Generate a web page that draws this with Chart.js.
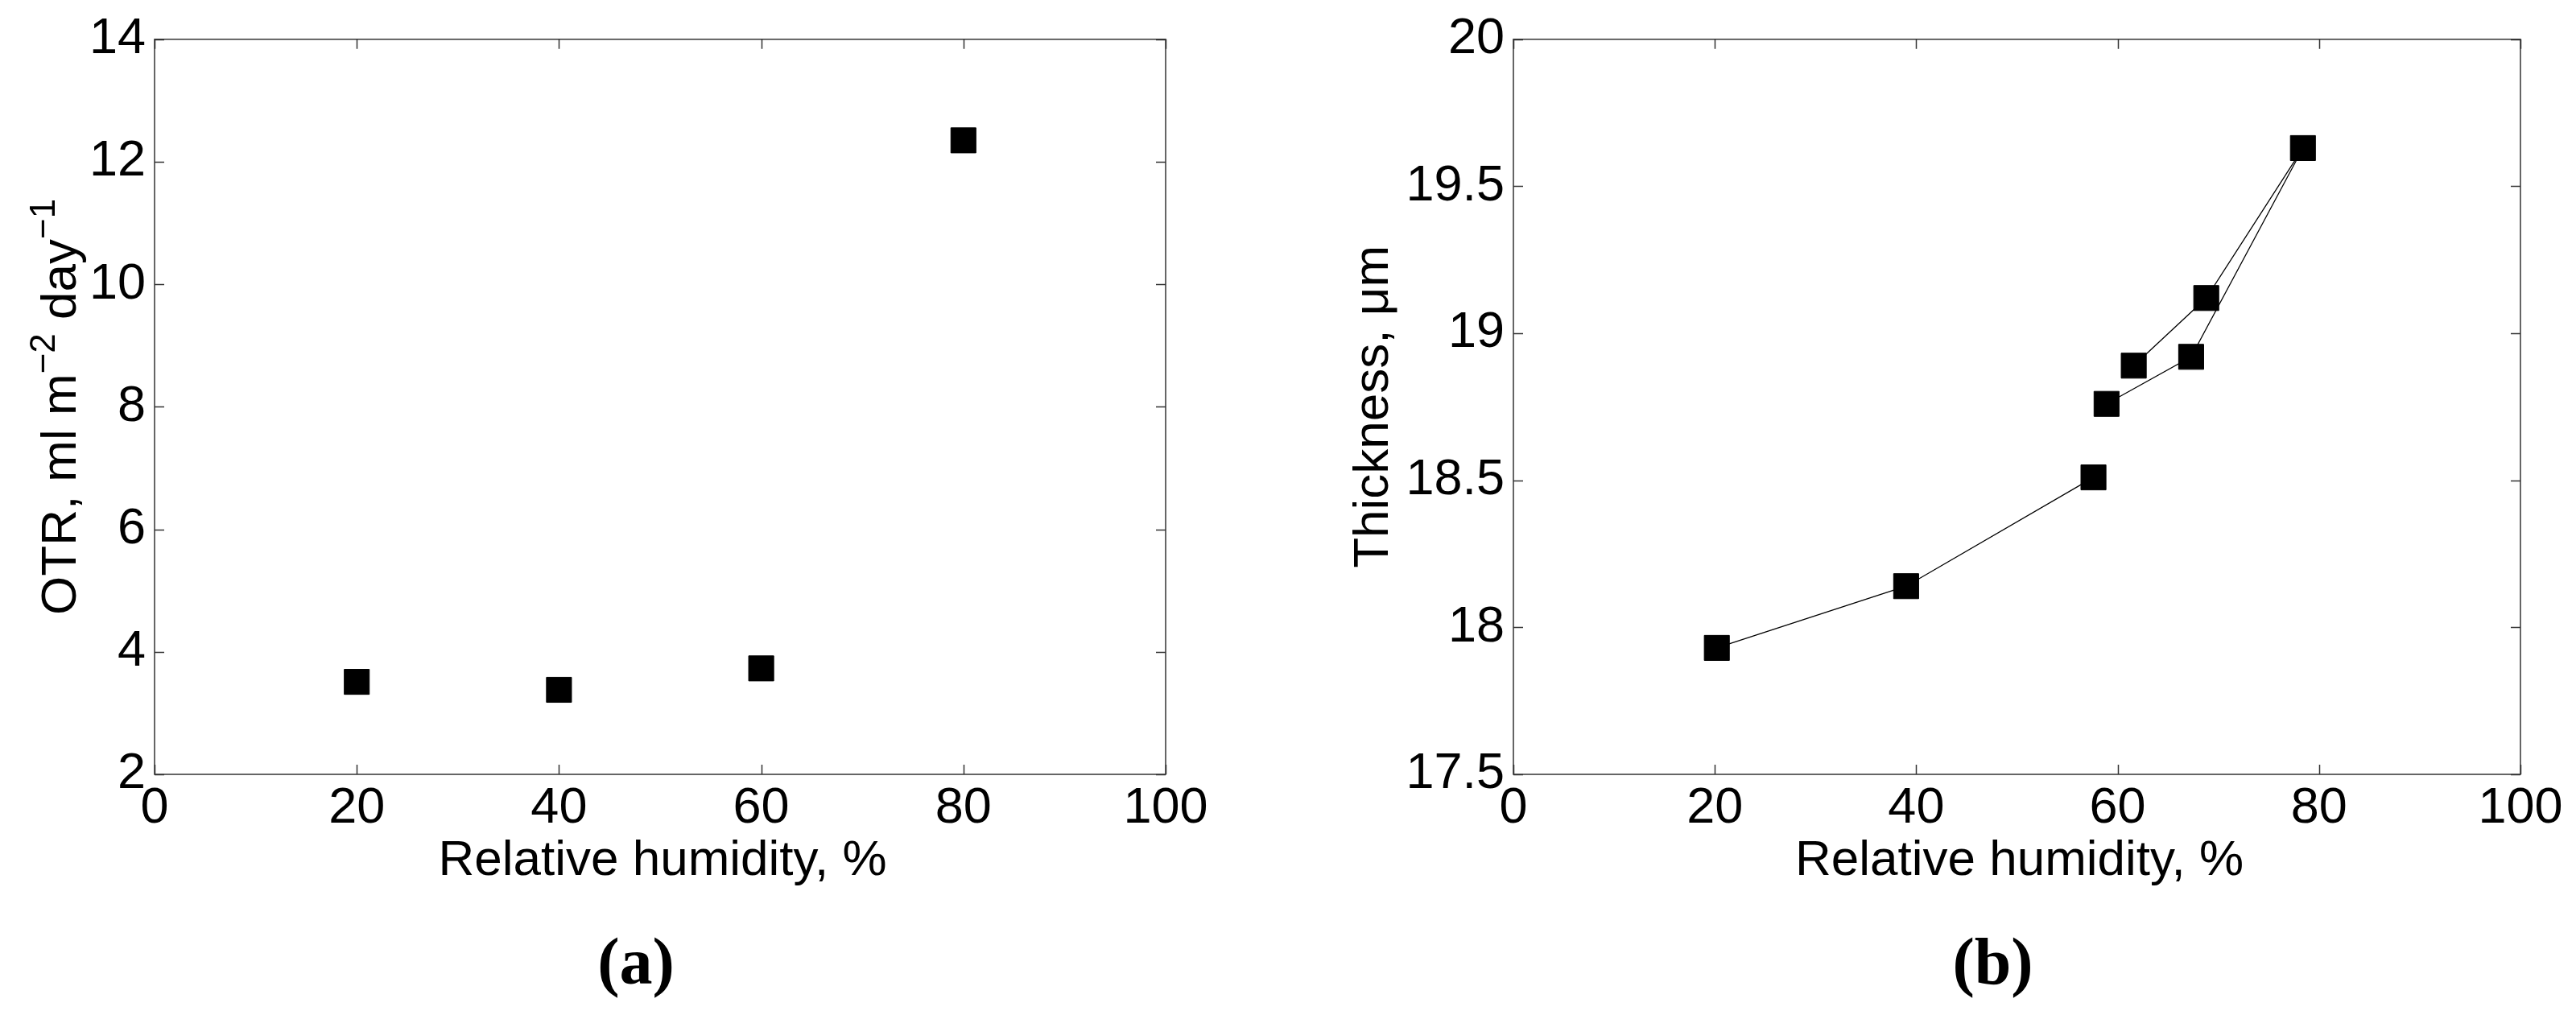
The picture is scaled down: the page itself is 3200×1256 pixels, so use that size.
<!DOCTYPE html>
<html><head><meta charset="utf-8">
<script src="https://cdn.jsdelivr.net/npm/chart.js@4.4.1/dist/chart.umd.min.js"></script>
<style>
html,body{margin:0;padding:0;background:#fff;}
#wrap{position:relative;width:3200px;height:1256px;background:#fff;}
canvas{position:absolute;top:0;}
</style></head><body>
<div id="wrap">
<canvas id="cA" width="1600" height="1256" style="left:0px"></canvas>
<canvas id="cB" width="1600" height="1256" style="left:1600px"></canvas>
</div>
<script>
// ---- data ----
const humidityA = [20, 40, 60, 80];
const otrA = [3.51, 3.38, 3.73, 12.35];
// panel (b): two connected runs
const humidityB1 = [20.2, 39.0, 57.6];
const thicknessB1 = [17.93, 18.14, 18.51];
const humidityB2 = [58.9, 67.3, 78.4, 68.8, 61.6];
const thicknessB2 = [18.76, 18.92, 19.63, 19.12, 18.89];
const xTicks = [0, 20, 40, 60, 80, 100];
const xTickLabels = ['0', '20', '40', '60', '80', '100'];
const yTicksA = [2, 4, 6, 8, 10, 12, 14];
const yTickLabelsA = ['2', '4', '6', '8', '10', '12', '14'];
const yTicksB = [17.5, 18, 18.5, 19, 19.5, 20];
const yTickLabelsB = ['17.5', '18', '18.5', '19', '19.5', '20'];
const xTitleText = 'Relative humidity, %';
const yTitleA = [['OTR, ml m', false], ['\u22122', true], [' day', false], ['\u22121', true]];
const yTitleB = [['Thickness, \u03bcm', false]];
const panelLabels = ['(a)', '(b)'];

const SANS = "'Liberation Sans', Arial, Helvetica, sans-serif";
const SERIF = "'Liberation Serif', 'Times New Roman', serif";
const FS = 63;

const framePlugin = {
  id: 'frame',
  beforeDatasetsDraw(chart) {
    const {ctx, chartArea: a, scales: {x, y}} = chart;
    ctx.save();
    ctx.strokeStyle = '#333';
    ctx.lineWidth = 1.5;
    ctx.strokeRect(a.left, a.top, a.right - a.left, a.bottom - a.top);
    const tl = 12;
    ctx.beginPath();
    x.ticks.forEach(t => {
      const px = Math.round(x.getPixelForValue(t.value)) + 0.5;
      ctx.moveTo(px, a.bottom); ctx.lineTo(px, a.bottom - tl);
      ctx.moveTo(px, a.top); ctx.lineTo(px, a.top + tl);
    });
    y.ticks.forEach(t => {
      const py = Math.round(y.getPixelForValue(t.value)) + 0.5;
      ctx.moveTo(a.left, py); ctx.lineTo(a.left + tl, py);
      ctx.moveTo(a.right, py); ctx.lineTo(a.right - tl, py);
    });
    ctx.stroke();
    ctx.restore();
  },
  afterDraw(chart, args, o) {
    const {ctx, chartArea: a} = chart;
    ctx.save();
    ctx.fillStyle = '#000';
    ctx.font = `${FS - 1}px ${SANS}`;
    ctx.textAlign = 'center';
    ctx.textBaseline = 'alphabetic';
    ctx.fillText(xTitleText, (a.left + a.right) / 2 + 3, 1087);
    const supSize = Math.round(FS * 0.7);
    let total = 0;
    o.yTitle.forEach(([s, sup]) => {
      ctx.font = `${sup ? supSize : FS - 1}px ${SANS}`;
      total += ctx.measureText(s).width;
    });
    ctx.translate(o.yTitleX, (a.top + a.bottom) / 2);
    ctx.rotate(-Math.PI / 2);
    ctx.textAlign = 'left';
    let cx = -total / 2;
    o.yTitle.forEach(([s, sup]) => {
      ctx.font = `${sup ? supSize : FS - 1}px ${SANS}`;
      ctx.fillText(s, cx, sup ? -FS * 0.42 : 0);
      cx += ctx.measureText(s).width;
    });
    ctx.setTransform(1, 0, 0, 1, 0, 0);
    ctx.font = `bold 82px ${SERIF}`;
    ctx.textAlign = 'center';
    ctx.fillText(o.panel, (a.left + a.right) / 2 - 30, 1222);
    ctx.restore();
  }
};

function series(xs, ys, showLine) {
  return {
    data: xs.map((v, i) => ({x: v, y: ys[i]})),
    showLine: showLine,
    borderColor: '#000',
    borderWidth: 1.3,
    backgroundColor: '#000',
    pointStyle: 'rect',
    pointRadius: 22,
    pointHoverRadius: 22,
    pointBorderWidth: 1,
    pointBackgroundColor: '#000',
    pointBorderColor: '#000',
    tension: 0
  };
}

function makeChart(id, datasets, yTicks, yLabels, padLeft, padRight, yTitle, yTitleX, panel) {
  const yMin = yTicks[0], yMax = yTicks[yTicks.length - 1];
  return new Chart(document.getElementById(id), {
    type: 'scatter',
    data: {datasets},
    options: {
      responsive: false,
      animation: false,
      devicePixelRatio: 1,
      layout: {padding: {left: 0, top: 42, right: padRight, bottom: 0}},
      plugins: {
        legend: {display: false},
        tooltip: {enabled: false},
        frame: {yTitle, yTitleX, panel}
      },
      scales: {
        x: {
          type: 'linear', min: 0, max: 100,
          grid: {display: false, drawTicks: false},
          border: {display: false},
          afterBuildTicks: s => { s.ticks = xTicks.map(v => ({value: v})); },
          afterFit: s => { s.height = 294; },
          ticks: {
            padding: 5, color: '#000',
            font: {family: SANS, size: FS},
            callback: (v) => xTickLabels[xTicks.indexOf(v)]
          }
        },
        y: {
          type: 'linear', min: yMin, max: yMax,
          grid: {display: false, drawTicks: false},
          border: {display: false},
          afterBuildTicks: s => { s.ticks = yTicks.map(v => ({value: v})); },
          afterFit: s => { s.width = padLeft; },
          ticks: {
            padding: 11, color: '#000',
            font: {family: SANS, size: FS},
            callback: (v) => yLabels[yTicks.indexOf(v)]
          }
        }
      }
    },
    plugins: [framePlugin]
  });
}

makeChart('cA', [series(humidityA, otrA, false)], yTicksA, yTickLabelsA, 192, 152, yTitleA, 94, panelLabels[0]);
makeChart('cB', [series(humidityB1, thicknessB1, true), series(humidityB2, thicknessB2, true)],
  yTicksB, yTickLabelsB, 280, 69, yTitleB, 124, panelLabels[1]);
</script>
</body></html>
